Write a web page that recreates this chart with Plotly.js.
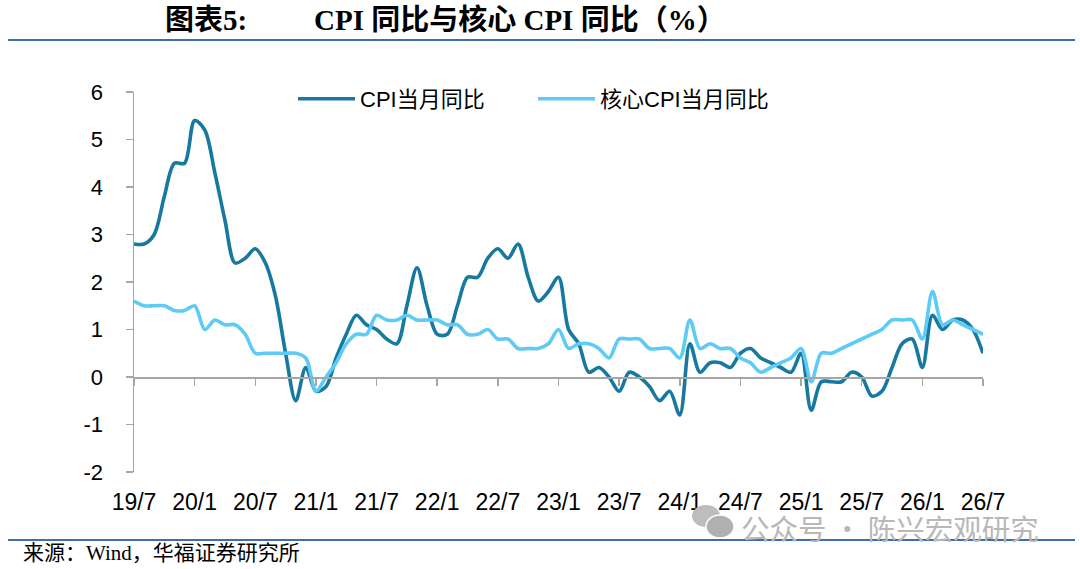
<!DOCTYPE html>
<html>
<head>
<meta charset="utf-8">
<script src="https://cdn.plot.ly/plotly-3.0.1.min.js"></script>
<style>html,body{margin:0;padding:0;background:#fff;}#chart{width:1080px;height:569px;}</style>
</head>
<body>
<div id="chart"></div>
<script>
// ---- data (monthly, 2019/7 - 2026/7) ----
const startYear = 2019;
const startMonth = 7;
const cpiYoY = [
  2.8, 2.8, 3.0, 3.8, 4.5, 4.5,
  5.4, 5.2, 4.3, 3.3, 2.4, 2.5, 2.7, 2.4, 1.7, 0.5, -0.5, 0.2,
  -0.3, -0.2, 0.4, 0.9, 1.3, 1.1, 1.0, 0.8, 0.7, 1.5, 2.3, 1.5,
  0.9, 0.9, 1.5, 2.1, 2.1, 2.5, 2.7, 2.5, 2.8, 2.1, 1.6, 1.8,
  2.1, 1.0, 0.7, 0.1, 0.2, 0.0, -0.3, 0.1, 0.0, -0.2, -0.5, -0.3,
  -0.8, 0.7, 0.1, 0.3, 0.3, 0.2, 0.5, 0.6, 0.4, 0.3, 0.2, 0.1,
  0.5, -0.7, -0.1, -0.1, -0.1, 0.1, 0.0, -0.4, -0.3, 0.2, 0.7, 0.8,
  0.2, 1.3, 1.0, 1.2, 1.2, 1.0, 0.5
];
const coreCpiYoY = [
  1.6, 1.5, 1.5, 1.5, 1.4, 1.4,
  1.5, 1.0, 1.2, 1.1, 1.1, 0.9, 0.5, 0.5, 0.5, 0.5, 0.5, 0.4,
  -0.3, 0.0, 0.3, 0.7, 0.9, 0.9, 1.3, 1.2, 1.2, 1.3, 1.2, 1.2,
  1.2, 1.1, 1.1, 0.9, 0.9, 1.0, 0.8, 0.8, 0.6, 0.6, 0.6, 0.7,
  1.0, 0.6, 0.7, 0.7, 0.6, 0.4, 0.8, 0.8, 0.8, 0.6, 0.6, 0.6,
  0.4, 1.2, 0.6, 0.7, 0.6, 0.6, 0.4, 0.3, 0.1, 0.2, 0.3, 0.4,
  0.6, -0.1, 0.5, 0.5, 0.6, 0.7, 0.8, 0.9, 1.0, 1.2, 1.2, 1.2,
  0.8, 1.8, 1.1, 1.2, 1.1, 1.0, 0.9
];
const tickLabels = ['19/7','20/1','20/7','21/1','21/7','22/1','22/7','23/1','23/7','24/1','24/7','25/1','25/7','26/1','26/7'];
const yTickVals = [-2, -1, 0, 1, 2, 3, 4, 5, 6];
const yTickLabels = ['-2', '-1', '0', '1', '2', '3', '4', '5', '6'];
const seriesNames = ['CPI当月同比', '核心CPI当月同比'];

// month categories (index positions and labels)
const monthIdx = cpiYoY.map((_, i) => i);
const monthLabels = monthIdx.map(i => {
  const m0 = startMonth - 1 + i;
  return (startYear + Math.floor(m0 / 12)) + '/' + (m0 % 12 + 1);
});
const tickVals = tickLabels.map((_, k) => k * 6);

// ---- layout helpers ----
const W = 1080, H = 569;
const M = {l: 134, r: 97, t: 92, b: 97};
const PL = M.l, PR = W - M.r, PT = M.t, PB = H - M.b;
const px = x => (x - PL) / (PR - PL);
const py = y => (PB - y) / (PB - PT);

const cjkSerif = '"Liberation Serif", "Times New Roman", "Noto Sans CJK SC", serif';
const sans = '"Liberation Sans", Arial, "Noto Sans CJK SC", sans-serif';
const axisGrey = '#a6a6a6';

const traces = [
  {
    x: monthIdx, y: cpiYoY, text: monthLabels, name: seriesNames[0],
    type: 'scatter', mode: 'lines', xaxis: 'x', yaxis: 'y',
    line: {color: '#17799f', width: 3.6, shape: 'spline', smoothing: 0.9},
    hovertemplate: '%{text}: %{y}<extra></extra>'
  },
  {
    x: monthIdx, y: coreCpiYoY, text: monthLabels, name: seriesNames[1],
    type: 'scatter', mode: 'lines', xaxis: 'x2', yaxis: 'y',
    line: {color: '#5ecbf5', width: 3.6, shape: 'spline', smoothing: 0.9},
    hovertemplate: '%{text}: %{y}<extra></extra>'
  }
];

const layout = {
  width: W, height: H,
  margin: M,
  paper_bgcolor: '#ffffff',
  plot_bgcolor: '#ffffff',
  showlegend: true,
  legend: {
    orientation: 'h', x: px(293), xanchor: 'left', y: py(99), yanchor: 'middle',
    font: {family: sans, size: 22, color: '#000'},
    itemwidth: 57,
    entrywidth: 168, entrywidthmode: 'pixels',
    bgcolor: 'rgba(0,0,0,0)'
  },
  xaxis: {
    range: [0, 84], anchor: 'free', position: py(PB - (PB - PT) * 2 / 8),
    showline: true, linecolor: axisGrey, linewidth: 1.5,
    ticks: 'outside', ticklen: 7, tickwidth: 1.5, tickcolor: axisGrey,
    tickmode: 'array', tickvals: tickVals, showticklabels: false,
    showgrid: false, zeroline: false, fixedrange: true
  },
  xaxis2: {
    overlaying: 'x', matches: 'x', anchor: 'y', side: 'bottom',
    showline: false, ticks: '', tickmode: 'array', tickvals: tickVals, ticktext: tickLabels,
    tickfont: {family: sans, size: 23, color: '#000'}, ticklabelstandoff: 14,
    showgrid: false, zeroline: false
  },
  yaxis: {
    range: [-2, 6], tickmode: 'array', tickvals: yTickVals, ticktext: yTickLabels,
    showline: true, linecolor: axisGrey, linewidth: 1.5,
    ticks: 'outside', ticklen: 7, tickwidth: 1.5, tickcolor: axisGrey,
    tickfont: {family: sans, size: 22, color: '#000'}, ticklabelstandoff: 18,
    showgrid: false, zeroline: false
  },
  shapes: [
    {type: 'line', xref: 'paper', yref: 'paper', x0: px(8), x1: px(1075), y0: py(40), y1: py(40),
     line: {color: '#3d6cb5', width: 2}},
    {type: 'line', xref: 'paper', yref: 'paper', x0: px(8), x1: px(1075), y0: py(540), y1: py(540),
     line: {color: '#3d6cb5', width: 2}},
    {type: 'circle', xref: 'paper', yref: 'paper', x0: px(692), x1: px(720), y0: py(505), y1: py(527),
     fillcolor: '#bdbdbd', line: {width: 0}},
    {type: 'circle', xref: 'paper', yref: 'paper', x0: px(706), x1: px(734), y0: py(515), y1: py(538),
     fillcolor: '#b0b0b0', line: {color: '#ffffff', width: 1.5}}
  ],
  annotations: [
    {text: '<b>图表5:</b>', xref: 'paper', yref: 'paper', x: px(163), y: py(20), xanchor: 'left', yanchor: 'middle',
     showarrow: false, font: {family: cjkSerif, size: 29, color: '#000'}},
    {text: '<b>CPI 同比与核心 CPI 同比（%）</b>', xref: 'paper', yref: 'paper', x: px(312), y: py(20), xanchor: 'left', yanchor: 'middle',
     showarrow: false, font: {family: cjkSerif, size: 29, color: '#000'}},
    {text: '来源：Wind，华福证券研究所', xref: 'paper', yref: 'paper', x: px(21), y: py(553), xanchor: 'left', yanchor: 'middle',
     showarrow: false, font: {family: cjkSerif, size: 21, color: '#000'}},
    {text: '公众号 · 陈兴宏观研究', xref: 'paper', yref: 'paper', x: px(739), y: py(527), xanchor: 'left', yanchor: 'middle',
     showarrow: false, font: {family: '"Noto Sans CJK SC", sans-serif', size: 28.5, color: '#b8b8b8'}}
  ]
};

Plotly.newPlot('chart', traces, layout, {displayModeBar: false, staticPlot: true});
</script>
</body>
</html>
